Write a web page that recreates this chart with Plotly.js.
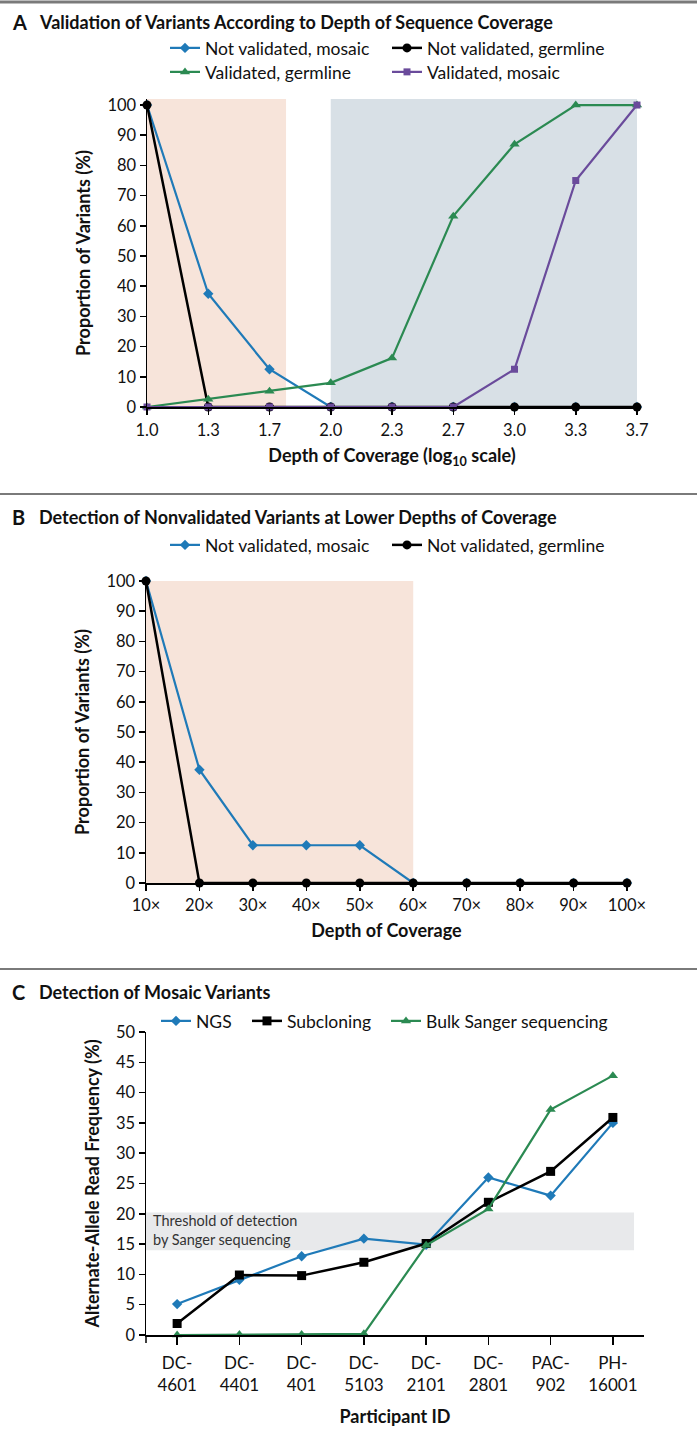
<!DOCTYPE html>
<html>
<head>
<meta charset="utf-8">
<script src="https://cdn.plot.ly/plotly-3.0.1.min.js"></script>
<style>html,body{margin:0;padding:0;background:#fff;}#chart{width:697px;height:1447px;}</style>
</head>
<body>
<div id="chart"></div>
<script>
// ---------- DATA ----------
// Panel A
const depthLogLabels = ['1.0','1.3','1.7','2.0','2.3','2.7','3.0','3.3','3.7'];
const a_notValidatedMosaic   = [100, 37.5, 12.5, 0, 0, 0, 0, 0, 0];
const a_notValidatedGermline = [100, 0, 0, 0, 0, 0, 0, 0, 0];
const a_validatedGermline    = [0, 2.6, 5.2, 8, 16.2, 63.2, 87, 100, 100];
const a_validatedMosaic      = [0, 0, 0, 0, 0, 0, 12.5, 75, 100];
// Panel B
const depthB = [10, 20, 30, 40, 50, 60, 70, 80, 90, 100];
const depthBLabels = ['10×','20×','30×','40×','50×','60×','70×','80×','90×','100×'];
const b_notValidatedMosaic   = [100, 37.5, 12.5, 12.5, 12.5, 0, 0, 0, 0, 0];
const b_notValidatedGermline = [100, 0, 0, 0, 0, 0, 0, 0, 0, 0];
// Panel C
const participants = ['DC-<br>4601','DC-<br>4401','DC-<br>401','DC-<br>5103','DC-<br>2101','DC-<br>2801','PAC-<br>902','PH-<br>16001'];
const c_ngs        = [5.1, 9.1, 13, 15.9, 14.9, 26, 23, 35];
const c_subcloning = [1.9, 9.9, 9.8, 12, 15.1, 21.9, 27, 35.9];
const c_bulkSanger = [0, 0.1, 0.1, 0.2, 14.8, 20.8, 37.2, 42.8];
const sangerThreshold = [14, 20.2];

// ---------- STYLE ----------
const W = 697, H = 1447;
const px = x => x / W;
const py = y => 1 - y / H;
const FONT = 'Lato, "Liberation Sans", Arial, sans-serif';
const BLUE = '#1f7ab8', BLACK = '#000000', GREEN = '#2b8a52', PURPLE = '#6a4b9b';
const PINK = '#f7e4da', GRAYBLUE = '#d8e0e6', BAND = '#e8e9eb';

function line(x, y, color, symbol, size, xa, ya, name, legend, width) {
  return {
    type: 'scatter', mode: 'lines+markers', x: x, y: y, name: name,
    xaxis: xa, yaxis: ya, legend: legend, cliponaxis: false, showlegend: true,
    line: {color: color, width: width || 2.2},
    marker: {color: color, symbol: symbol, size: size}
  };
}

const traces = [
  line(depthLogLabels, a_notValidatedMosaic, BLUE, 'diamond', 8, 'x', 'y', 'Not validated, mosaic', 'legend'),
  line(depthLogLabels, a_notValidatedGermline, BLACK, 'circle', 9, 'x', 'y', 'Not validated, germline', 'legend2', 2.5),
  line(depthLogLabels, a_validatedGermline, GREEN, 'triangle-up', 9, 'x', 'y', 'Validated, germline', 'legend3'),
  line(depthLogLabels, a_validatedMosaic, PURPLE, 'square', 7, 'x', 'y', 'Validated, mosaic', 'legend4'),
  line(depthB, b_notValidatedMosaic, BLUE, 'diamond', 8, 'x2', 'y2', 'Not validated, mosaic', 'legend5'),
  line(depthB, b_notValidatedGermline, BLACK, 'circle', 9, 'x2', 'y2', 'Not validated, germline', 'legend6', 2.5),
  line(participants, c_ngs, BLUE, 'diamond', 8, 'x3', 'y3', 'NGS', 'legend7'),
  line(participants, c_subcloning, BLACK, 'square', 9, 'x3', 'y3', 'Subcloning', 'legend8', 2.5),
  line(participants, c_bulkSanger, GREEN, 'triangle-up', 9, 'x3', 'y3', 'Bulk Sanger sequencing', 'legend9')
];

const axisBase = {
  showline: true, linecolor: '#000', linewidth: 1.5, ticks: 'outside', ticklen: 6,
  tickwidth: 1.5, tickcolor: '#000', showgrid: false, zeroline: false,
  tickfont: {family: FONT, size: 16.5, color: '#111'}, fixedrange: true
};
const titleFont = {family: FONT, size: 18, color: '#111', weight: 'bold'};

function leg(xText, yc) {
  return {x: px(xText - 40), y: py(yc), xanchor: 'left', yanchor: 'middle',
          orientation: 'h', bgcolor: 'rgba(0,0,0,0)', borderwidth: 0,
          font: {family: FONT, size: 17.5, color: '#111'}};
}

const layout = {
  width: W, height: H, margin: {l: 0, r: 0, t: 0, b: 0}, showlegend: true,
  paper_bgcolor: '#fff', plot_bgcolor: 'rgba(0,0,0,0)',
  font: {family: FONT, color: '#111'},
  legend: leg(205, 48), legend2: leg(427, 48), legend3: leg(205, 72), legend4: leg(427, 72),
  legend5: leg(205, 545), legend6: leg(427, 545),
  legend7: leg(196, 1021), legend8: leg(287, 1021), legend9: leg(426, 1021),
  xaxis: Object.assign({}, axisBase, {domain: [px(147), px(637)], anchor: 'y', type: 'category',
    range: [0, 8], ticklabelstandoff: 2,
    title: {text: 'Depth of Coverage (log<sub>10</sub> scale)', font: titleFont, standoff: 10}}),
  yaxis: Object.assign({}, axisBase, {domain: [py(407), py(99)], anchor: 'x', range: [0, 102],
    tickvals: [0,10,20,30,40,50,60,70,80,90,100],
    title: {text: 'Proportion of Variants (%)', font: titleFont, standoff: 12}}),
  xaxis2: Object.assign({}, axisBase, {domain: [px(146), px(627)], anchor: 'y2', range: [10, 100],
    tickvals: depthB, ticktext: depthBLabels, ticklabelstandoff: 1,
    title: {text: 'Depth of Coverage', font: titleFont, standoff: 10}}),
  yaxis2: Object.assign({}, axisBase, {domain: [py(883), py(581)], anchor: 'x2', range: [0, 100],
    tickvals: [0,10,20,30,40,50,60,70,80,90,100],
    title: {text: 'Proportion of Variants (%)', font: titleFont, standoff: 12}}),
  xaxis3: Object.assign({}, axisBase, {domain: [px(146), px(644)], anchor: 'y3', type: 'category',
    range: [-0.5, 7.5], ticklen: 8, ticklabelstandoff: 4,
    tickfont: {family: FONT, size: 17, color: '#111'},
    title: {text: 'Participant ID', font: titleFont, standoff: 16}}),
  yaxis3: Object.assign({}, axisBase, {domain: [py(1335), py(1032)], anchor: 'x3', range: [0, 50],
    tickvals: [0,5,10,15,20,25,30,35,40,45,50],
    title: {text: 'Alternate-Allele Read Frequency (%)', font: titleFont, standoff: 12}}),
  shapes: [
    // Panel A shading
    {type: 'rect', xref: 'x', yref: 'y', x0: 0, x1: 2.27, y0: 0, y1: 102, fillcolor: PINK, line: {width: 0}, layer: 'below'},
    {type: 'rect', xref: 'x', yref: 'y', x0: 3, x1: 8, y0: 0, y1: 102, fillcolor: GRAYBLUE, line: {width: 0}, layer: 'below'},
    // Panel B shading
    {type: 'rect', xref: 'x2', yref: 'y2', x0: 10, x1: 60, y0: 0, y1: 100, fillcolor: PINK, line: {width: 0}, layer: 'below'},
    // Panel C threshold band
    {type: 'rect', xref: 'x3', yref: 'y3', x0: -0.5, x1: 7.34, y0: sangerThreshold[0], y1: sangerThreshold[1], fillcolor: BAND, line: {width: 0}, layer: 'below'},
    // Panel C y-axis extension below zero
    {type: 'line', xref: 'paper', yref: 'paper', x0: px(146), x1: px(146), y0: py(1335), y1: py(1343), line: {color: '#000', width: 1.5}},
    // separators
    {type: 'line', xref: 'paper', yref: 'paper', x0: 0, x1: 1, y0: py(2), y1: py(2), line: {color: '#7a7a7a', width: 3}},
    {type: 'line', xref: 'paper', yref: 'paper', x0: 0, x1: 1, y0: py(494), y1: py(494), line: {color: '#7a7a7a', width: 2}},
    {type: 'line', xref: 'paper', yref: 'paper', x0: 0, x1: 1, y0: py(969), y1: py(969), line: {color: '#7a7a7a', width: 2}}
  ],
  annotations: [
    {text: '<b>A</b>', x: px(10), y: py(22), xref: 'paper', yref: 'paper', xanchor: 'left', yanchor: 'middle', showarrow: false, font: {family: FONT, size: 20, color: '#111'}},
    {text: '<b>Validation of Variants According to Depth of Sequence Coverage</b>', x: px(37), y: py(22), xref: 'paper', yref: 'paper', xanchor: 'left', yanchor: 'middle', showarrow: false, font: {family: FONT, size: 18, color: '#111'}},
    {text: '<b>B</b>', x: px(10), y: py(517), xref: 'paper', yref: 'paper', xanchor: 'left', yanchor: 'middle', showarrow: false, font: {family: FONT, size: 20, color: '#111'}},
    {text: '<b>Detection of Nonvalidated Variants at Lower Depths of Coverage</b>', x: px(37), y: py(517), xref: 'paper', yref: 'paper', xanchor: 'left', yanchor: 'middle', showarrow: false, font: {family: FONT, size: 18, color: '#111'}},
    {text: '<b>C</b>', x: px(10), y: py(992), xref: 'paper', yref: 'paper', xanchor: 'left', yanchor: 'middle', showarrow: false, font: {family: FONT, size: 20, color: '#111'}},
    {text: '<b>Detection of Mosaic Variants</b>', x: px(37), y: py(992), xref: 'paper', yref: 'paper', xanchor: 'left', yanchor: 'middle', showarrow: false, font: {family: FONT, size: 18, color: '#111'}},
    {text: 'Threshold of detection<br>by Sanger sequencing', x: px(151), y: py(1230), xref: 'paper', yref: 'paper', xanchor: 'left', yanchor: 'middle', align: 'left', showarrow: false, font: {family: FONT, size: 14.5, color: '#333'}}
  ]
};

Plotly.newPlot('chart', traces, layout, {displayModeBar: false, staticPlot: true});
</script>
</body>
</html>
